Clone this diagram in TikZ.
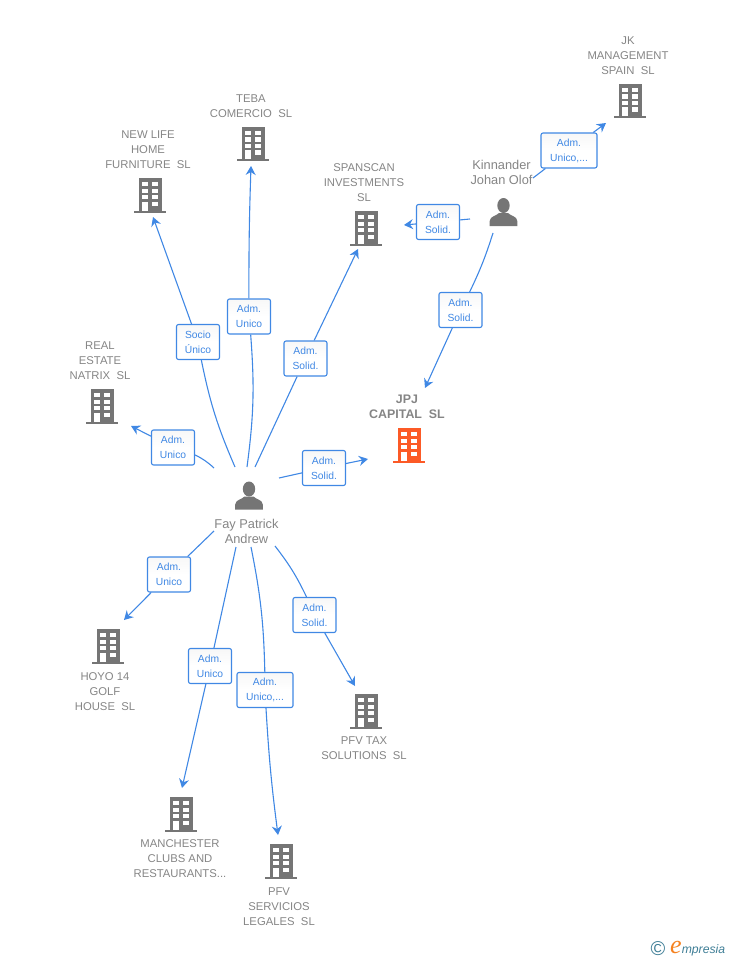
\documentclass[tikz,border=0pt]{standalone}
\usepackage{fontspec}
\setmainfont{Liberation Sans}
\newfontfamily\logofont{Liberation Serif}
\usetikzlibrary{arrows.meta}
\definecolor{linkblue}{HTML}{4088E4}
\definecolor{namegray}{HTML}{858585}
\definecolor{icongray}{HTML}{757575}
\definecolor{mainred}{HTML}{FC5A26}
\definecolor{logoteal}{HTML}{3F7E96}
\definecolor{logoorange}{HTML}{F58220}
\tikzset{
  firm/.style={text=namegray, align=center, inner sep=0pt, font=\fontsize{11.3}{15}\selectfont},
  person/.style={firm, font=\fontsize{12.8}{15}\selectfont},
  rolebox/.style={draw=linkblue, rounded corners=2pt, line width=1.1pt, top color=black!3, bottom color=white, middle color=white, text=linkblue, align=center, inner sep=0pt, minimum height=35, font=\fontsize{10.3}{15}\selectfont},
  link/.style={-, line width=1.1pt, draw=linkblue},
  arrowlink/.style={link, -{Stealth[length=9pt, width=10pt, inset=3pt, color=linkblue, fill=linkblue]}},
  pics/building/.style={code={
    \fill[#1] (-11.5,-17) rectangle (11.5,15.5);
    \fill[#1] (-16,15.5) rectangle (16,17.5);
    \foreach \yy in {-13,-6.5,0,6.5} {
      \fill[white] (-8,\yy) rectangle (-1.6,\yy+4.4);
      \fill[white] (1.6,\yy) rectangle (8,\yy+4.4);
    }
    \fill[white] (-8,6.5) rectangle (-2.5,15.5);
  }},
  pics/personicon/.style={code={
    \fill[icongray] (0,-6.5) ellipse (6.2 and 7.5);
    \fill[icongray] (-13.8,14) -- (-13.8,9) .. controls (-13.5,4) and (-7,4) .. (-4.5,1) -- (4.5,1) .. controls (7,4) and (13.5,4) .. (13.8,9) -- (13.8,14) -- cycle;
  }}
}
\begin{document}
\begin{tikzpicture}[x=1pt, y=-1pt]
\useasboundingbox (0,0) rectangle (728,960);
% icons
\pic at (150,195) {building=icongray};
\pic at (253,144) {building=icongray};
\pic at (366,228) {building=icongray};
\pic at (630,101) {building=icongray};
\pic at (102,406) {building=icongray};
\pic at (409,445) {building=mainred};
\pic at (108,646) {building=icongray};
\pic at (366,711) {building=icongray};
\pic at (181,814) {building=icongray};
\pic at (281,861) {building=icongray};
\pic at (503.5,212) {personicon};
\pic at (249,495.5) {personicon};
% names
\node[firm] (newlife) at (148,150) {NEW LIFE\\HOME\\FURNITURE\ \ SL};
\node[firm] (teba) at (251,106.5) {TEBA\\COMERCIO\ \ SL};
\node[firm] (spanscan) at (364,183) {SPANSCAN\\INVESTMENTS\\SL};
\node[firm] (jk) at (628,56) {JK\\MANAGEMENT\\SPAIN\ \ SL};
\node[person] (kinnander) at (501.5,172) {Kinnander\\Johan Olof};
\node[firm] (natrix) at (100,361) {REAL\\ESTATE\\NATRIX\ \ SL};
\node[firm, font=\fontsize{12.4}{15}\bfseries] (jpj) at (407,407) {JPJ\\CAPITAL\ \ SL};
\node[person] (fay) at (246.5,531) {Fay Patrick\\Andrew};
\node[firm] (hoyo) at (105,692) {HOYO 14\\GOLF\\HOUSE\ \ SL};
\node[firm] (pfvtax) at (364,748.5) {PFV TAX\\SOLUTIONS\ \ SL};
\node[firm] (manchester) at (180,859) {MANCHESTER\\CLUBS AND\\RESTAURANTS...};
\node[firm] (pfvserv) at (279,907) {PFV\\SERVICIOS\\LEGALES\ \ SL};
% role boxes
\node[rolebox, minimum width=43] (rnewlife) at (198,342) {Socio\\Único};
\node[rolebox, minimum width=43] (rteba) at (249,316.5) {Adm.\\Unico};
\node[rolebox, minimum width=43] (rspanscan) at (305.5,358.5) {Adm.\\Solid.};
\node[rolebox, minimum width=56] (rjk) at (569,150.5) {Adm.\\Unico,...};
\node[rolebox, minimum width=43] (rkinspan) at (438,222) {Adm.\\Solid.};
\node[rolebox, minimum width=43] (rkinjpj) at (460.5,310) {Adm.\\Solid.};
\node[rolebox, minimum width=43] (rnatrix) at (173,447.5) {Adm.\\Unico};
\node[rolebox, minimum width=43] (rjpj) at (324,468) {Adm.\\Solid.};
\node[rolebox, minimum width=43] (rhoyo) at (169,574.5) {Adm.\\Unico};
\node[rolebox, minimum width=43] (rmanchester) at (210,666) {Adm.\\Unico};
\node[rolebox, minimum width=56] (rpfvserv) at (265,690) {Adm.\\Unico,...};
\node[rolebox, minimum width=43] (rpfvtax) at (314.5,615) {Adm.\\Solid.};
% free ends
\coordinate (f1) at (235,467);
\coordinate (f2) at (247,467);
\coordinate (f3) at (255,467);
\coordinate (f4) at (214,468);
\coordinate (f5) at (279,478);
\coordinate (f6) at (214,531);
\coordinate (f7) at (236,547);
\coordinate (f8) at (251,547);
\coordinate (f9) at (275,546);
\coordinate (k1) at (533,178);
\coordinate (k2) at (470,219);
\coordinate (k3) at (493,233);
\coordinate (anewlife) at (153,217);
\coordinate (ateba) at (251,166);
\coordinate (aspanscan) at (358,249);
\coordinate (ajk) at (606,123);
\coordinate (akinspan) at (404,225);
\coordinate (akinjpj) at (425,388);
\coordinate (anatrix) at (131,426);
\coordinate (ajpj) at (368,459);
\coordinate (ahoyo) at (124,620);
\coordinate (amanchester) at (182,788);
\coordinate (apfvserv) at (278,835);
\coordinate (apfvtax) at (355,686);
% links
\path [link] (f1) edge[bend left=6] (rnewlife);
\path [arrowlink] (rnewlife) edge (anewlife);
\path [link] (f2) edge[bend right=6] (rteba);
\path [arrowlink] (rteba) edge[bend left=1] (ateba);
\path [link] (f3) edge (rspanscan);
\path [arrowlink] (rspanscan) edge (aspanscan);
\path [link] (f4) edge[bend right=8] (rnatrix);
\path [arrowlink] (rnatrix) edge (anatrix);
\path [link] (f5) edge (rjpj);
\path [arrowlink] (rjpj) edge (ajpj);
\path [link] (f6) edge (rhoyo);
\path [arrowlink] (rhoyo) edge (ahoyo);
\path [link] (f7) edge (rmanchester);
\path [arrowlink] (rmanchester) edge (amanchester);
\path [link] (f8) edge[bend left=5] (rpfvserv);
\path [arrowlink] (rpfvserv) edge[bend right=2] (apfvserv);
\path [link] (f9) edge[bend left=6] (rpfvtax);
\path [arrowlink] (rpfvtax) edge (apfvtax);
\path [link] (k1) edge (rjk);
\path [arrowlink] (rjk) edge (ajk);
\path [link] (k2) edge (rkinspan);
\path [arrowlink] (rkinspan) edge (akinspan);
\path [link] (k3) edge[bend left=4] (rkinjpj);
\path [arrowlink] (rkinjpj) edge (akinjpj);
% logo
\node[text=logoteal, inner sep=0pt, font=\fontsize{20}{20}\selectfont] (copyright) at (658,948.5) {©};
\node[anchor=west, inner sep=0pt] (logo) at (670,948.5) {\textcolor{logoorange}{\logofont\fontsize{26}{26}\selectfont\itshape e}\textcolor{logoteal}{\fontsize{12.2}{12}\selectfont\itshape mpresia}};
\end{tikzpicture}
\end{document}
